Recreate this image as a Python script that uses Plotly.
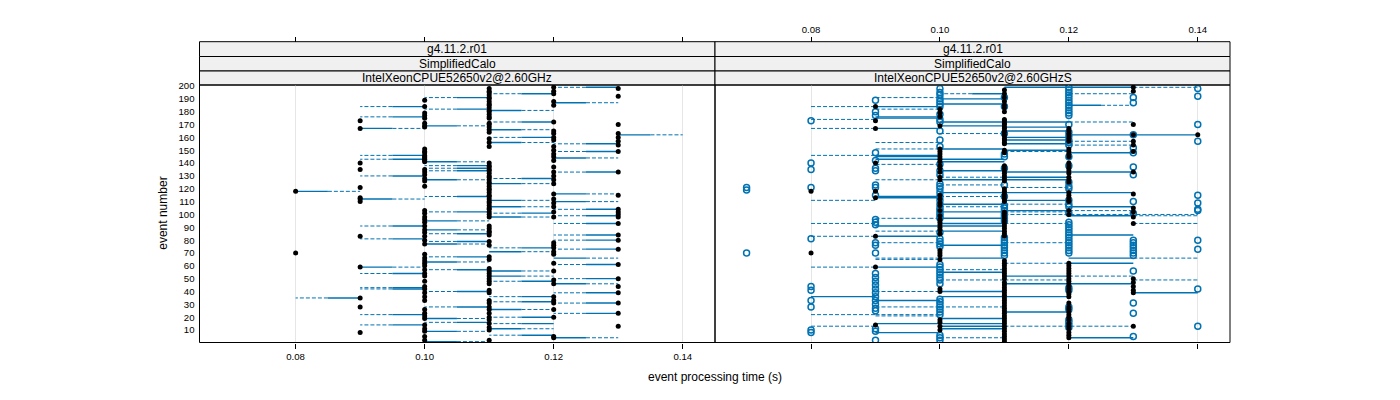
import plotly.graph_objects as go

W, H = 1400, 400
OFF = 8  # page body margin in the browser
BLUE = "#0072B2"
FONT = "Liberation Sans"

# ---------------- data (times in 1/100 s, events = event number) ----------------
strip_level1 = ["g4.11.2.r01", "g4.11.2.r01"]
strip_level2 = ["SimplifiedCalo", "SimplifiedCalo"]
strip_level3 = ["IntelXeonCPUE52650v2@2.60GHz", "IntelXeonCPUE52650v2@2.60GHzS"]

x_ticks = [0.08, 0.10, 0.12, 0.14]
x_tick_text = ["0.08", "0.10", "0.12", "0.14"]
y_ticks = list(range(10, 201, 10))

# left panel: measured events (black dots), grouped by time column
left_ev_08 = [118, 70]
left_ev_09 = [173, 167, 140, 135, 121, 113, 112, 110, 83, 59, 35, 28, 8]
left_ev_10 = [189, 184, 179, 177, 175, 171, 169, 168, 151, 149, 148, 146, 145, 144, 143, 142, 141,
              135, 133, 131, 128, 126, 122, 103, 101, 98, 96, 94, 91, 88, 86, 83, 80, 77, 69, 66,
              64, 62, 60, 57, 54, 52, 48, 44, 42, 39, 36, 33, 26, 23, 21, 19, 14, 11, 9, 5, 2]
left_ev_11 = [198, 196, 195, 193, 191, 190, 188, 186, 185, 183, 181, 180, 178, 176, 175, 171, 170,
              168, 166, 164, 159, 156, 153, 140, 138, 137, 135, 134, 132, 130, 129, 127, 125, 124,
              122, 120, 119, 117, 115, 114, 112, 110, 109, 107, 105, 104, 102, 100, 98, 91, 89, 87,
              86, 84, 79, 76, 67, 65, 58, 56, 54, 52, 50, 48, 46, 41, 39, 33, 31, 28, 26, 23, 20,
              18, 15, 12, 10, 2]
left_ev_12 = [199, 196, 194, 188, 185, 172, 165, 163, 160, 158, 153, 150, 147, 145, 142, 137, 133,
              130, 127, 124, 116, 112, 109, 106, 102, 98, 78, 76, 74, 71, 69, 62, 56, 49, 46, 36,
              33, 31, 26, 20, 5, 4]
left_ev_13 = [198, 192, 170, 163, 160, 157, 154, 149, 133, 115, 104, 102, 100, 98, 93, 84, 80, 73,
              61, 50, 44, 39, 31, 23, 13]

# left panel: segments (event, start time, end time); solid near start, dashed near end
left_seg_event = [184, 191, 182, 176, 167, 194, 181, 169, 172, 166, 160, 156, 199, 187, 162, 155,
                  149, 144, 133, 146, 143, 141, 138, 136, 134, 130, 127, 128, 124, 118, 112, 114,
                  116, 111, 110, 106, 104,
                  102, 101, 99, 98, 95, 93, 91, 88, 85, 84, 81, 80, 79, 77, 74, 71, 73, 66, 67, 63,
                  61, 59, 57, 56, 54, 52, 50, 48, 46, 43, 42, 40, 39, 36, 35, 32, 31, 28, 26, 23,
                  22, 20, 19, 16, 15, 14, 11, 9, 6, 4, 1]
left_seg_from = [10, 11, 11, 10, 9, 12, 11, 10, 12, 11, 12, 11, 13, 12, 13, 13,
                 13, 12, 13, 10, 10, 10, 11, 11, 11, 10, 10, 12, 11, 8, 9, 11,
                 12, 11, 12, 11, 13,
                 11, 12, 13, 11, 10, 13, 10, 10, 11, 13, 10, 13, 11, 10, 12, 11, 13, 12, 11, 10,
                 13, 9, 11, 11, 10, 11, 13, 12, 12, 10, 10, 11, 13, 12, 9, 12, 13, 11, 11, 13,
                 10, 12, 10, 11, 12, 10, 11, 10, 12, 12, 10]
left_seg_to = [9, 10, 10, 9, 10, 11, 12, 11, 11, 12, 11, 12, 12, 13, 14, 12,
               12, 13, 12, 9, 9, 11, 10, 10, 10, 9, 11, 11, 12, 9, 10, 10,
               13, 12, 13, 12, 12,
               10, 11, 12, 12, 11, 12, 9, 11, 10, 12, 9, 12, 10, 11, 11, 12, 12, 13, 10, 11,
               12, 10, 10, 12, 9, 12, 12, 11, 13, 9, 9, 10, 12, 11, 8, 11, 12, 10, 12, 12,
               9, 11, 11, 10, 11, 9, 12, 11, 11, 13, 11]

# right panel: black dots, grouped by time column
right_dot_07 = []
right_dot_08 = [118, 70]
right_dot_09 = [184, 173, 167, 140, 118, 113, 83, 59, 14]
right_dot_10 = [182, 179, 176, 169, 151, 149, 147, 145, 143, 141, 138, 136, 133, 129, 127, 115,
                112, 109, 107, 103, 99, 96, 94, 92, 90, 88, 85, 72, 70, 68, 65, 42, 40, 18, 16,
                13, 10]
right_dot_11 = [197, 194, 191, 188, 185, 183, 180, 174, 173, 171, 170, 168, 167, 165, 164, 162,
                161, 159, 158, 156, 155, 150, 148, 138, 136, 134, 132, 130, 128, 126, 120, 118,
                116, 114, 112, 110, 102, 101, 99, 97, 95, 93, 91, 89, 87, 85, 83, 64, 62, 60, 58,
                56, 54, 52, 50, 47, 45, 43, 41, 39, 37, 35, 33, 31, 29, 27, 25, 23, 21, 19, 17,
                15, 13, 11, 9, 7, 5, 3, 1]
right_dot_12 = [167, 165, 163, 161, 159, 157, 151, 149, 147, 145, 140, 138, 136, 134, 132, 129,
                127, 125, 117, 115, 113, 111, 110, 103, 100, 62, 60, 58, 56, 54, 52, 50, 48, 46,
                44, 42, 40, 38, 36, 31, 28, 26, 24, 22, 20, 18, 15, 13, 11, 8, 6, 4]
right_dot_13 = [199, 196, 170, 162, 157, 154, 149, 133, 116, 105, 102, 98, 93, 50, 47, 44, 41,
                39, 13]
right_dot_14 = [162]

# right panel: blue open circles, grouped by time column
right_circ_07 = [121, 119, 70]
right_circ_08 = [173, 140, 135, 121, 81, 44, 41, 33, 28, 10, 8]
right_circ_09 = [189, 180, 177, 148, 142, 136, 134, 123, 121, 115, 96, 94, 92, 78, 76, 70, 54,
                 51, 48, 45, 42, 39, 36, 33, 30, 27, 25, 11, 9, 2]
right_circ_10 = [198, 195, 193, 190, 188, 186, 184, 178, 174, 172, 165, 158, 153, 139, 134, 131,
                 124, 122, 120, 117, 114, 111, 108, 105, 103, 101, 99, 97, 86, 81, 79, 77, 75,
                 61, 59, 57, 55, 53, 51, 49, 46, 34, 32, 30, 28, 26, 24, 22, 6, 4, 2]
right_circ_11 = [191, 184, 163, 147, 145, 136, 123, 114, 107, 105, 103, 101, 99, 97, 95, 82,
                 80, 78, 76, 74, 72, 70, 68]
right_circ_12 = [199, 197, 195, 193, 191, 189, 187, 185, 183, 181, 179, 177, 170, 164, 161,
                 158, 156, 154, 145, 138, 125, 122, 120, 111, 108, 106, 101, 94, 92, 90, 88, 86,
                 84, 82, 80, 78, 76, 74, 72, 70, 43, 41, 28, 26, 18, 16, 14, 12]
right_circ_13 = [191, 187, 162, 152, 148, 137, 131, 110, 101, 80, 78, 76, 74, 72, 70, 68, 56,
                 31, 23, 5]
right_circ_14 = [198, 192, 170, 157, 115, 109, 104, 103, 80, 73, 42, 13]

# right panel: segments (event, start, end, style: s=solid, d=dashed, h=half solid/half dashed)
right_seg_event = [199, 199, 194, 194, 191, 190, 186, 185, 184, 184, 182, 176, 175, 174, 172,
                   172, 169, 168, 167, 167, 165, 163, 162, 160, 158, 157, 155, 154, 156, 151,
                   151, 150, 149, 148, 146, 146, 145, 143, 143, 141, 139, 134, 133, 129, 129,
                   127, 127, 123, 121, 117, 117, 114, 113, 114, 111, 111, 108, 108, 106, 106,
                   103, 103, 100,
                   102, 102, 99, 99, 97, 97, 93, 93, 93, 93, 91, 87, 87, 84, 83, 83, 78, 78, 76,
                   66, 65, 66, 66, 66, 62, 62, 59, 59, 57, 55, 52, 52, 49, 49, 49, 46, 46, 40,
                   40, 39, 36, 36, 33, 28, 28, 24, 22, 22, 21, 19, 15, 13, 13, 13, 11, 8, 4, 4]
right_seg_from = [11, 13, 11, 12, 9, 10, 10, 12, 8, 9, 9, 9, 9, 8, 10,
                  12, 10, 11, 8, 9, 11, 10, 12, 11, 11, 12, 11, 12, 9, 9,
                  10, 11, 11, 12, 8, 9, 9, 9, 10, 10, 9, 10, 11, 10, 11,
                  9, 10, 10, 11, 10, 11, 9, 9, 10, 8, 11, 10, 11, 10, 12,
                  11, 12, 11,
                  10, 11, 12, 13, 9, 10, 8, 10, 11, 13, 9, 9, 10, 12, 8, 9, 9, 11, 10,
                  9, 9, 10, 12, 13, 11, 12, 8, 9, 10, 10, 11, 12, 10, 11, 13, 11, 12, 9,
                  10, 13, 8, 10, 9, 9, 10, 11, 8, 9, 9, 10, 9, 8, 10, 11, 10, 9, 10, 12]
right_seg_to = [13, 14, 10, 13, 10, 11, 11, 13, 9, 10, 10, 10, 10, 9, 12,
                13, 11, 12, 9, 10, 12, 11, 14, 12, 12, 13, 12, 13, 10, 10,
                11, 12, 12, 13, 9, 10, 10, 10, 11, 11, 10, 11, 13, 11, 12,
                10, 12, 11, 12, 11, 13, 10, 10, 11, 9, 12, 11, 12, 11, 13,
                12, 13, 14,
                11, 12, 13, 14, 10, 11, 9, 11, 12, 14, 11, 10, 11, 13, 9, 10, 10, 12, 11,
                10, 10, 11, 13, 14, 12, 13, 9, 10, 11, 11, 12, 13, 11, 12, 14, 12, 13, 10,
                11, 14, 9, 12, 10, 10, 11, 12, 9, 10, 10, 11, 11, 9, 11, 13, 11, 10, 11, 13]
right_seg_style = ["s", "d", "h", "d", "d", "s", "s", "h", "d", "s", "d", "s", "s", "d", "s",
                   "d", "s", "s", "d", "s", "s", "d", "s", "s", "s", "d", "s", "d", "d", "d",
                   "s", "s", "d", "s", "d", "s", "s", "s", "s", "s", "d", "s", "s", "d", "s",
                   "d", "s", "d", "d", "s", "s", "s", "s", "d", "d", "s", "s", "d", "d", "s",
                   "s", "d", "d",
                   "s", "d", "s", "d", "d", "s", "d", "s", "d", "d", "s", "d", "s", "s", "d",
                   "s", "d", "d", "s",
                   "d", "d", "s", "s", "d", "d", "s", "d", "s", "d", "s", "s", "d", "d", "d",
                   "d", "s", "s", "d", "s", "s", "s", "s", "s", "d", "d", "s", "d", "d", "d",
                   "s", "s", "d", "s", "d", "s", "s", "d", "s"]


# ---------------- helpers ----------------
def px_x(p):
    return (p - OFF) / W


def px_y(p):
    return 1 - (p - OFF) / H


def column_points(groups):
    xs, ys = [], []
    for t, evs in groups:
        for e in evs:
            xs.append(t / 100)
            ys.append(e)
    return xs, ys


def segment_traces(events, starts, ends, styles, xa, ya):
    sx, sy, dx, dy = [], [], [], []
    for e, a, b, s in zip(events, starts, ends, styles):
        a, b = a / 100, b / 100
        if s == "s":
            sx += [a, b, None]; sy += [e, e, None]
        elif s == "d":
            dx += [a, b, None]; dy += [e, e, None]
        else:
            m = (a + b) / 2
            sx += [a, m, None]; sy += [e, e, None]
            dx += [m, b, None]; dy += [e, e, None]
    return [
        go.Scatter(x=dx, y=dy, mode="lines", xaxis=xa, yaxis=ya, hoverinfo="skip",
                   line=dict(color=BLUE, width=1, dash="4px,2px"), showlegend=False),
        go.Scatter(x=sx, y=sy, mode="lines", xaxis=xa, yaxis=ya, hoverinfo="skip",
                   line=dict(color=BLUE, width=1.4), showlegend=False),
    ]


fig = go.Figure()

# left panel
for tr in segment_traces(left_seg_event, left_seg_from, left_seg_to,
                         ["h"] * len(left_seg_event), "x", "y"):
    fig.add_trace(tr)
lx, ly = column_points([(8, left_ev_08), (9, left_ev_09), (10, left_ev_10), (11, left_ev_11),
                        (12, left_ev_12), (13, left_ev_13)])
fig.add_trace(go.Scatter(x=lx, y=ly, mode="markers", xaxis="x", yaxis="y", showlegend=False,
                         marker=dict(color="black", size=5, line=dict(width=0))))

# right panel
for tr in segment_traces(right_seg_event, right_seg_from, right_seg_to, right_seg_style,
                         "x2", "y2"):
    fig.add_trace(tr)
cx, cy = column_points([(7, right_circ_07), (8, right_circ_08), (9, right_circ_09),
                        (10, right_circ_10), (11, right_circ_11), (12, right_circ_12),
                        (13, right_circ_13), (14, right_circ_14)])
fig.add_trace(go.Scatter(x=cx, y=cy, mode="markers", xaxis="x2", yaxis="y2", showlegend=False,
                         marker=dict(symbol="circle-open", color=BLUE, size=6,
                                     line=dict(color=BLUE, width=1.5))))
dx_, dy_ = column_points([(7, right_dot_07), (8, right_dot_08), (9, right_dot_09),
                          (10, right_dot_10), (11, right_dot_11), (12, right_dot_12),
                          (13, right_dot_13), (14, right_dot_14)])
fig.add_trace(go.Scatter(x=dx_, y=dy_, mode="markers", xaxis="x2", yaxis="y2", showlegend=False,
                         marker=dict(color="black", size=5, line=dict(width=0))))

# dummy traces so the top axes are drawn
fig.add_trace(go.Scatter(x=[None], y=[None], xaxis="x3", yaxis="y", showlegend=False))
fig.add_trace(go.Scatter(x=[None], y=[None], xaxis="x4", yaxis="y2", showlegend=False))

# ---------------- layout ----------------
XR = [0.0651, 0.1450]
YR = [0.3, 200.8]
P_LEFT, P_MID, P_RIGHT = 199.5, 715, 1230
P_TOP, P_BOT = 85, 342.5
S_TOP, S_1, S_2 = 41.7, 56.5, 71

tickfont = dict(family=FONT, size=9.6, color="black")
common_x = dict(range=XR, tickvals=x_ticks, ticktext=x_tick_text, ticks="outside", ticklen=5,
                tickcolor="black", tickwidth=1, zeroline=False, showline=False,
                tickfont=tickfont, fixedrange=True, automargin=False)

fig.update_layout(
    width=W, height=H, margin=dict(l=0, r=0, t=0, b=0, pad=0, autoexpand=False),
    paper_bgcolor="white", plot_bgcolor="white",
    font=dict(family=FONT, color="black"),
    xaxis=dict(domain=[px_x(P_LEFT), px_x(P_MID)], anchor="y", showgrid=True,
               gridcolor="#e6e6e6", gridwidth=1, **common_x),
    xaxis2=dict(domain=[px_x(P_MID), px_x(P_RIGHT)], anchor="y2", showgrid=True,
                gridcolor="#e6e6e6", gridwidth=1, showticklabels=False, **common_x),
    xaxis3=dict(overlaying="x", side="top", anchor="free", position=px_y(S_TOP),
                showgrid=False, showticklabels=False, **common_x),
    xaxis4=dict(overlaying="x2", side="top", anchor="free", position=px_y(S_TOP),
                showgrid=False, showticklabels=True, **common_x),
    yaxis=dict(domain=[px_y(P_BOT), px_y(P_TOP)], anchor="x", range=YR, tickvals=y_ticks,
               ticks="", showgrid=False, zeroline=False, showline=False, tickfont=tickfont,
               ticklabelstandoff=4, fixedrange=True, automargin=False),
    yaxis2=dict(domain=[px_y(P_BOT), px_y(P_TOP)], anchor="x2", range=YR, ticks="",
                showticklabels=False, showgrid=False, zeroline=False, showline=False,
                fixedrange=True, automargin=False),
)

shapes = []
annotations = []
for (x0, x1), l1, l2, l3 in zip([(P_LEFT, P_MID), (P_MID, P_RIGHT)],
                                strip_level1, strip_level2, strip_level3):
    shapes.append(dict(type="rect", xref="paper", yref="paper", x0=px_x(x0), x1=px_x(x1),
                       y0=px_y(P_BOT), y1=px_y(P_TOP), line=dict(color="black", width=1),
                       fillcolor="rgba(0,0,0,0)", layer="above"))
    for (ya, yb), txt in zip([(S_TOP, S_1), (S_1, S_2), (S_2, P_TOP)], [l1, l2, l3]):
        shapes.append(dict(type="rect", xref="paper", yref="paper", x0=px_x(x0), x1=px_x(x1),
                           y0=px_y(yb), y1=px_y(ya), line=dict(color="black", width=1),
                           fillcolor="#f0f0f0", layer="below"))
        annotations.append(dict(text=txt, xref="paper", yref="paper", x=px_x((x0 + x1) / 2),
                                y=px_y((ya + yb) / 2), showarrow=False, xanchor="center",
                                yanchor="middle", font=dict(family=FONT, size=12,
                                                            color="black")))

annotations.append(dict(text="event processing time (s)", xref="paper", yref="paper",
                        x=px_x(P_MID), y=px_y(377), showarrow=False, xanchor="center",
                        yanchor="middle", font=dict(family=FONT, size=12, color="black")))
annotations.append(dict(text="event number", xref="paper", yref="paper", x=px_x(163),
                        y=px_y((P_TOP + P_BOT) / 2), showarrow=False, textangle=-90,
                        xanchor="center", yanchor="middle",
                        font=dict(family=FONT, size=12, color="black")))

fig.update_layout(shapes=shapes, annotations=annotations)
fig.write_html("out.html")
